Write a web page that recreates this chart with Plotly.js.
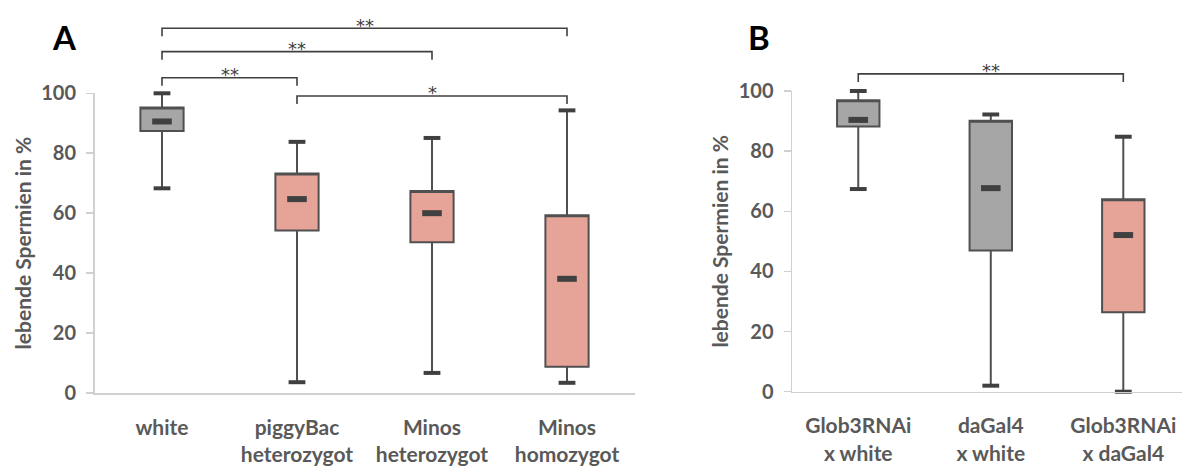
<!DOCTYPE html>
<html>
<head>
<meta charset="utf-8">
<script src="https://cdn.plot.ly/plotly-3.0.1.min.js"></script>
<style>html,body{margin:0;padding:0;background:#fff;}#chart{width:1182px;height:469px;}</style>
</head>
<body>
<div id="chart"></div>
<script>
// ---------- Panel A data ----------
const catsA = ['white', 'piggyBac<br>heterozygot', 'Minos<br>heterozygot', 'Minos<br>homozygot'];
const maxA = [100, 83.8, 85.1, 94.3];
const q3A  = [95.3, 73.2, 67.4, 59.3];
const medA = [90.6, 64.7, 60.0, 38.1];
const q1A  = [87.4, 54.2, 50.3, 8.8];
const minA = [68.3, 3.6, 6.7, 3.4];
const colorGroupA = ['control', 'test', 'test', 'test'];

// ---------- Panel B data ----------
const catsB = ['Glob3RNAi<br>x white', 'daGal4<br>x white', 'Glob3RNAi<br>x daGal4'];
const maxB = [100, 92.2, 84.8];
const q3B  = [96.9, 90.1, 64.0];
const medB = [90.4, 67.7, 52.1];
const q1B  = [88.2, 47.0, 26.4];
const minB = [67.4, 2.0, 0];
const colorGroupB = ['control', 'control', 'test'];

// ---------- Significance brackets ----------
const brFromA  = [0, 0, 0, 1];
const brToA    = [1, 2, 3, 3];
const brLevelA = [105.2, 113.9, 121.7, 99.1];
const brLabelA = ['**', '**', '**', '*'];
const brFromB  = [0];
const brToB    = [2];
const brLevelB = [105.7];
const brLabelB = ['**'];

const yTicks = [0, 20, 40, 60, 80, 100];
const yTitle = 'lebende Spermien in %';

// ---------- styling ----------
const FILL = {control: '#a6a6a6', test: '#e6a398'};
const DARK = '#404040';
const AXIS = '#d0d0d0';
const TXT = '#595959';
const FONT = 'Lato, "Open Sans", sans-serif';

const W = 1182, H = 469, B = 76;
const xDomA = [94.5 / W, 634.5 / W];
const yDomA = [0, 0.7626];
const xDomB = [792 / W, 1];
const yDomB = [0.0033, 0.7684];
const xRangeA = [-0.5, 3.5];
const xRangeB = [-0.5, 2.443];

function boxTraces(cats, q1, med, q3, lo, hi, groups, xa, ya) {
  const traces = [];
  ['control', 'test'].forEach(g => {
    const idx = cats.map((c, i) => i).filter(i => groups[i] === g);
    if (!idx.length) return;
    traces.push({
      type: 'box', xaxis: xa, yaxis: ya,
      x: idx.map(i => cats[i]),
      q1: idx.map(i => q1[i]),
      // median drawn separately as a short thick dash; put the box-median on q3 so it merges with the box edge
      median: idx.map(i => q3[i]),
      q3: idx.map(i => q3[i]),
      lowerfence: idx.map(i => lo[i]),
      upperfence: idx.map(i => hi[i]),
      width: 0.32, whiskerwidth: 0,
      fillcolor: FILL[g],
      line: {color: '#505050', width: 2},
      boxpoints: false, hoverinfo: 'skip', showlegend: false
    });
  });
  traces.push({
    type: 'scatter', mode: 'markers', xaxis: xa, yaxis: ya,
    x: cats.concat(cats), y: lo.concat(hi), cliponaxis: false,
    marker: {symbol: 'line-ew', size: 12, line: {width: 4, color: DARK}},
    hoverinfo: 'skip', showlegend: false
  });
  traces.push({
    type: 'scatter', mode: 'markers', xaxis: xa, yaxis: ya,
    x: cats, y: med, cliponaxis: false,
    marker: {symbol: 'line-ew', size: 14, line: {width: 6, color: DARK}},
    hoverinfo: 'skip', showlegend: false
  });
  return traces;
}

const data = []
  .concat(boxTraces(catsA, q1A, medA, q3A, minA, maxA, colorGroupA, 'x', 'y'))
  .concat(boxTraces(catsB, q1B, medB, q3B, minB, maxB, colorGroupB, 'x2', 'y2'));

// data -> paper conversion helpers for the brackets above the axes
function px(i, dom, rng) { return dom[0] + (i - rng[0]) / (rng[1] - rng[0]) * (dom[1] - dom[0]); }
function py(v, dom) { return dom[0] + v / 100 * (dom[1] - dom[0]); }
const plotH = H - B;

const shapes = [], annotations = [];
function addBrackets(from, to, level, label, xd, xr, yd) {
  for (let k = 0; k < from.length; k++) {
    const x0 = px(from[k], xd, xr), x1 = px(to[k], xd, xr);
    const y = py(level[k], yd), yt = y - 8 / plotH;
    shapes.push({type: 'path', xref: 'paper', yref: 'paper',
      path: `M${x0},${yt} L${x0},${y} L${x1},${y} L${x1},${yt}`,
      line: {color: DARK, width: 1.6}});
    annotations.push({xref: 'paper', yref: 'paper', x: (x0 + x1) / 2, y: y + 3 / plotH,
      text: label[k], showarrow: false, yanchor: 'middle', xanchor: 'center',
      font: {family: '"DejaVu Sans", sans-serif', size: 18, color: DARK}});
  }
}
addBrackets(brFromA, brToA, brLevelA, brLabelA, xDomA, xRangeA, yDomA);
addBrackets(brFromB, brToB, brLevelB, brLabelB, xDomB, xRangeB, yDomB);

annotations.push({xref: 'paper', yref: 'paper', x: 64 / W, y: (plotH - 37) / plotH, text: 'A',
  showarrow: false, xanchor: 'center', yanchor: 'middle', font: {family: FONT, size: 33, color: '#000', weight: 'bold'}});
annotations.push({xref: 'paper', yref: 'paper', x: 759 / W, y: (plotH - 37) / plotH, text: 'B',
  showarrow: false, xanchor: 'center', yanchor: 'middle', font: {family: FONT, size: 33, color: '#000', weight: 'bold'}});

function xAxis(dom, rng, cats, anchor) {
  return {domain: dom, range: rng, type: 'category', categoryarray: cats, categoryorder: 'array',
    anchor: anchor, showline: true, linecolor: AXIS, linewidth: 1.5, ticks: '', showgrid: false,
    zeroline: false, ticklabelstandoff: 15, fixedrange: true,
    tickfont: {family: FONT, size: 21, color: TXT, weight: 'bold'}};
}
function yAxis(dom, anchor) {
  return {domain: dom, range: [0, 100], anchor: anchor, tickvals: yTicks, showline: true,
    linecolor: AXIS, linewidth: 1.5, ticks: 'outside', ticklen: 7, tickcolor: AXIS, tickwidth: 1.5,
    showgrid: false, zeroline: false, ticklabelstandoff: 6, fixedrange: true,
    tickfont: {family: FONT, size: 20, color: TXT, weight: 'bold'},
    title: {text: yTitle, standoff: 4, font: {family: FONT, size: 21, color: TXT, weight: 'bold'}}};
}

const layout = {
  width: W, height: H,
  margin: {l: 0, r: 0, t: 0, b: B, pad: 0},
  paper_bgcolor: '#fff', plot_bgcolor: 'rgba(0,0,0,0)',
  showlegend: false, boxmode: 'overlay',
  xaxis: xAxis(xDomA, xRangeA, catsA, 'y'),
  yaxis: yAxis(yDomA, 'x'),
  xaxis2: xAxis(xDomB, xRangeB, catsB, 'y2'),
  yaxis2: yAxis(yDomB, 'x2'),
  shapes: shapes,
  annotations: annotations
};

Plotly.newPlot('chart', data, layout, {displayModeBar: false, staticPlot: true});
</script>
</body>
</html>
